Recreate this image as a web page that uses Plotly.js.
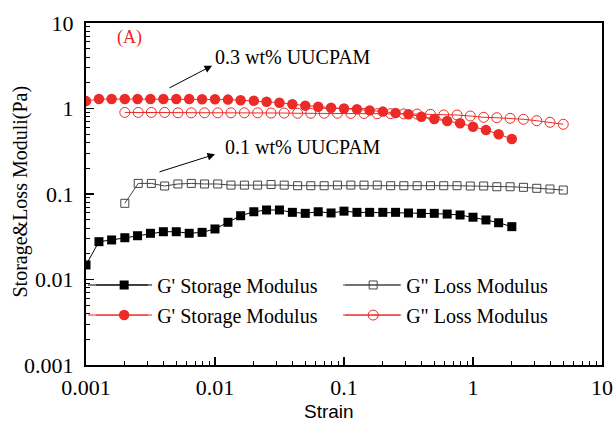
<!DOCTYPE html>
<html>
<head>
<meta charset="utf-8">
<script src="https://cdn.plot.ly/plotly-3.0.1.min.js"></script>
<style>html,body{margin:0;padding:0;background:#fff;}#chart{width:616px;height:425px;}</style>
</head>
<body>
<div id="chart"></div>
<script>
// Strain values for G' (storage) measurements
const strainStorage = [0.001, 0.00126, 0.00158, 0.002, 0.00251, 0.00316, 0.00398, 0.00501, 0.00631, 0.00794,
  0.01, 0.0126, 0.0158, 0.02, 0.0251, 0.0316, 0.0398, 0.0501, 0.0631, 0.0794,
  0.1, 0.126, 0.158, 0.2, 0.251, 0.316, 0.398, 0.501, 0.631, 0.794,
  1, 1.26, 1.58, 2];
// Strain values for G'' (loss) measurements
const strainLoss = [0.002, 0.00254, 0.00321, 0.00407, 0.00516, 0.00655, 0.0083, 0.0105, 0.0133, 0.0169,
  0.0214, 0.0272, 0.0344, 0.0437, 0.0553, 0.0702, 0.0889, 0.113, 0.143, 0.181,
  0.23, 0.291, 0.369, 0.468, 0.593, 0.752, 0.953, 1.21, 1.53, 1.94,
  2.46, 3.12, 3.95, 5.01];

// 0.1 wt% UUCPAM
const storage01 = [0.0148, 0.0277, 0.029, 0.0308, 0.0325, 0.0347, 0.0362, 0.0362, 0.0347, 0.0356,
  0.039, 0.0467, 0.0557, 0.062, 0.065, 0.065, 0.061, 0.0594, 0.062, 0.060,
  0.063, 0.061, 0.061, 0.061, 0.061, 0.060, 0.0594, 0.0594, 0.0583, 0.0568,
  0.0535, 0.0497, 0.0461, 0.0415];
const loss01 = [0.0778, 0.133, 0.133, 0.124, 0.131, 0.133, 0.131, 0.131, 0.127, 0.127,
  0.127, 0.129, 0.127, 0.125, 0.125, 0.125, 0.127, 0.127, 0.127, 0.127,
  0.125, 0.125, 0.125, 0.125, 0.125, 0.125, 0.124, 0.124, 0.1216, 0.1216,
  0.1197, 0.1166, 0.1144, 0.1113];

// 0.3 wt% UUCPAM
const storage03 = [1.22, 1.29, 1.29, 1.29, 1.29, 1.29, 1.29, 1.29, 1.29, 1.28,
  1.28, 1.27, 1.25, 1.23, 1.20, 1.17, 1.12, 1.08, 1.05, 1.02,
  1.00, 0.98, 0.95, 0.92, 0.886, 0.855, 0.80, 0.754, 0.715, 0.672,
  0.613, 0.561, 0.50, 0.44];
const loss03 = [0.90, 0.90, 0.90, 0.90, 0.89, 0.89, 0.89, 0.89, 0.89, 0.89,
  0.89, 0.885, 0.885, 0.88, 0.88, 0.88, 0.88, 0.875, 0.875, 0.87,
  0.87, 0.865, 0.86, 0.855, 0.839, 0.839, 0.817, 0.789, 0.780, 0.768,
  0.748, 0.720, 0.690, 0.654];

const seriesNames = ["G' Storage Modulus", 'G" Loss Modulus'];
const xTickVals = [0.001, 0.01, 0.1, 1, 10];
const xTickText = ['0.001', '0.01', '0.1', '1', '10'];
const yTickVals = [0.001, 0.01, 0.1, 1, 10];
const yTickText = ['0.001', '0.01', '0.1', '1', '10'];
const xTitle = 'Strain';
const yTitle = 'Storage&Loss Moduli(Pa)';
const panelLabel = '(A)';
const label03 = '0.3 wt% UUCPAM';
const label01 = '0.1 wt% UUCPAM';

const RED = '#ec2a27';
const GREY = '#444';
const SERIF = 'Liberation Serif, Times New Roman, serif';
const SANS = 'Liberation Sans, Arial, sans-serif';

const traces = [
  {x: strainStorage, y: storage01, name: seriesNames[0], type: 'scatter', mode: 'lines+markers',
   line: {color: '#000', width: 1}, marker: {symbol: 'square', size: 9, color: '#000'}, legend: 'legend'},
  {x: strainLoss, y: loss01, name: seriesNames[1], type: 'scatter', mode: 'lines+markers',
   line: {color: GREY, width: 1}, marker: {symbol: 'square-open', size: 8, color: GREY, line: {width: 1}}, legend: 'legend'},
  {x: strainStorage, y: storage03, name: seriesNames[0], type: 'scatter', mode: 'lines+markers',
   line: {color: RED, width: 1}, marker: {symbol: 'circle', size: 10.5, color: RED}, legend: 'legend2'},
  {x: strainLoss, y: loss03, name: seriesNames[1], type: 'scatter', mode: 'lines+markers',
   line: {color: RED, width: 1}, marker: {symbol: 'circle-open', size: 10, color: RED, line: {width: 1}}, legend: 'legend2'}
];

const legendCommon = {
  orientation: 'h', xanchor: 'left', yanchor: 'middle', bgcolor: 'rgba(0,0,0,0)',
  font: {family: SERIF, size: 20, color: '#000'}, itemwidth: 56, entrywidth: 178,
  traceorder: 'normal'
};

// legend sample line extensions (legend glyph lines are fixed-length in Plotly)
function legendLine(x0, x1, y, color) {
  return {type: 'line', xref: 'paper', yref: 'paper', x0: x0, x1: x1, y0: y, y1: y,
          line: {color: color, width: 1}, layer: 'above'};
}

// paper-coordinate helpers (plot area 86..602 x 23..365)
const px = v => (v - 86) / 516;
const py = v => (365 - v) / 342;

const layout = {
  width: 616, height: 425,
  margin: {l: 86, r: 14, t: 23, b: 60},
  paper_bgcolor: '#fff', plot_bgcolor: '#fff',
  font: {family: SERIF, color: '#000'},
  showlegend: true,
  legend: Object.assign({}, legendCommon, {x: 0.01, y: 0.234}),
  legend2: Object.assign({}, legendCommon, {x: 0.01, y: 0.146}),
  shapes: [
    legendLine(px(88), px(148), py(285), '#000'),
    legendLine(px(343), px(400), py(285), GREY),
    legendLine(px(88), px(148), py(315), RED),
    legendLine(px(343), px(400), py(315), RED)
  ],
  xaxis: {
    type: 'log', range: [-3, 1], tickvals: xTickVals, ticktext: xTickText,
    ticks: 'inside', ticklen: 8, tickwidth: 1.5, tickcolor: '#000',
    minor: {ticks: 'inside', ticklen: 4, tickwidth: 1, tickcolor: '#000', dtick: 'D1', showgrid: false},
    showline: true, linecolor: '#000', linewidth: 2, mirror: true, showgrid: false, zeroline: false,
    tickfont: {family: SERIF, size: 22, color: '#000'}, ticklabelstandoff: 2
  },
  yaxis: {
    type: 'log', range: [-3, 1], tickvals: yTickVals, ticktext: yTickText,
    ticks: 'inside', ticklen: 8, tickwidth: 1.5, tickcolor: '#000',
    minor: {ticks: 'inside', ticklen: 4, tickwidth: 1, tickcolor: '#000', dtick: 'D1', showgrid: false},
    showline: true, linecolor: '#000', linewidth: 2, mirror: true, showgrid: false, zeroline: false,
    tickfont: {family: SERIF, size: 22, color: '#000'}, ticklabelstandoff: 6
  },
  annotations: [
    {x: px(329), y: py(411), xref: 'paper', yref: 'paper', text: xTitle, showarrow: false,
     xanchor: 'center', yanchor: 'middle', borderpad: 0, font: {family: SANS, size: 19, color: '#000'}},
    {x: px(20), y: py(191.5), xref: 'paper', yref: 'paper', text: yTitle, showarrow: false, textangle: -90,
     xanchor: 'center', yanchor: 'middle', font: {family: SERIF, size: 20, color: '#000'}},
    {x: -2.775, y: 0.83, xref: 'x', yref: 'y', text: panelLabel, showarrow: false, xanchor: 'left', yanchor: 'middle',
     font: {family: SERIF, size: 18, color: RED}},
    {x: -2.0155, y: 0.602, xref: 'x', yref: 'y', text: label03, showarrow: false, xanchor: 'left', yanchor: 'middle',
     font: {family: SERIF, size: 20, color: '#000'}},
    {x: -1.94, y: -0.447, xref: 'x', yref: 'y', text: label01, showarrow: false, xanchor: 'left', yanchor: 'middle',
     font: {family: SERIF, size: 20, color: '#000'}},
    {x: -2.023, y: 0.501, xref: 'x', yref: 'y', text: '', showarrow: true, ax: -44, ay: 23,
     arrowhead: 2, arrowsize: 1.5, arrowwidth: 1, arrowcolor: '#000'},
    {x: -2.0, y: -0.536, xref: 'x', yref: 'y', text: '', showarrow: true, ax: -57, ay: 18,
     arrowhead: 2, arrowsize: 1.5, arrowwidth: 1, arrowcolor: '#000'}
  ]
};

Plotly.newPlot('chart', traces, layout, {displayModeBar: false, staticPlot: true});
</script>
</body>
</html>
